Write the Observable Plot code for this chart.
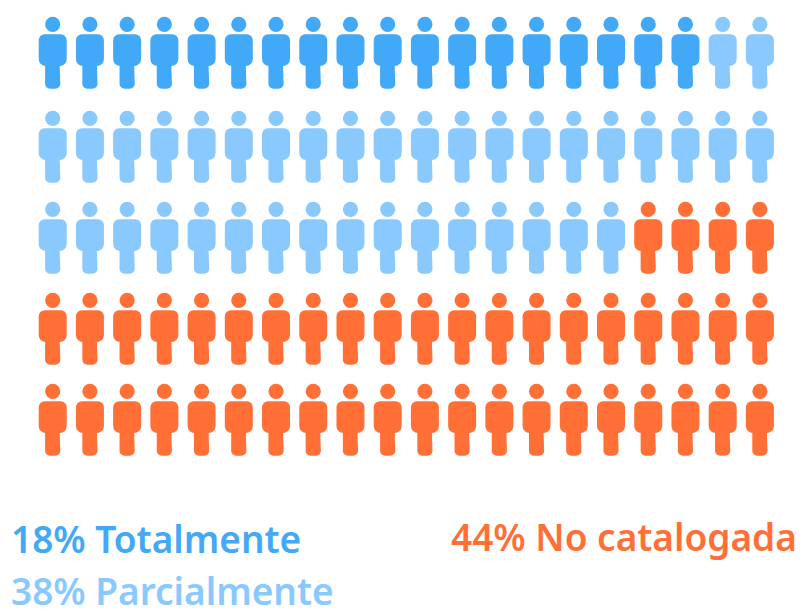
<!DOCTYPE html>
<html><head><meta charset="utf-8">
<script src="https://cdn.jsdelivr.net/npm/d3@7"></script>
<script src="https://cdn.jsdelivr.net/npm/@observablehq/plot@0.6"></script>
<style>
html,body{margin:0;padding:0;background:#fff;overflow:hidden}
#wrap{position:relative;width:803px;height:611px}
#chart svg{display:block}
.lab{position:absolute;white-space:nowrap;font-family:"Noto Sans",sans-serif;font-weight:600;font-size:37px;line-height:36px}
</style></head><body>
<div id="wrap"><div id="chart"></div></div>
<script>
const categories = ["Totalmente", "Parcialmente", "No catalogada"];
const percents = [18, 38, 44];
const colors = ["#42a9f8", "#8ac9fd", "#ff6f36"];
const columns = 20;
const rows = 5;

const people = [];
categories.forEach((c, i) => { for (let k = 0; k < percents[i]; k++) people.push(c); });
const table = people.map((category, i) => ({category, col: i % columns, row: Math.floor(i / columns)}));

// Pictogram person, centred on the origin; designed at r = 1
const person = {
  draw(ctx, size) {
    const s = Math.sqrt(size / Math.PI);
    const P = (v) => v * s;
    ctx.moveTo(P(7.6), P(-28.4));
    ctx.arc(0, P(-28.4), P(7.6), 0, 2 * Math.PI);
    ctx.closePath();
    ctx.moveTo(P(-8), P(-18.4));
    ctx.lineTo(P(8), P(-18.4));
    ctx.arcTo(P(14), P(-18.4), P(14), P(-12.4), P(6));
    ctx.lineTo(P(14), P(6));
    ctx.arcTo(P(14), P(13.4), P(7.6), P(13.4), P(7));
    ctx.lineTo(P(7.6), P(31));
    ctx.arcTo(P(7.6), P(36), P(2.6), P(36), P(5));
    ctx.lineTo(P(-2.6), P(36));
    ctx.arcTo(P(-7.6), P(36), P(-7.6), P(31), P(5));
    ctx.lineTo(P(-7.6), P(13.4));
    ctx.arcTo(P(-14), P(13.4), P(-14), P(6), P(7));
    ctx.lineTo(P(-14), P(-12.4));
    ctx.arcTo(P(-14), P(-18.4), P(-8), P(-18.4), P(6));
    ctx.closePath();
  }
};

const plot = Plot.plot({
  width: 803, height: 500,
  margin: 0,
  x: {type: "linear", domain: [0, columns - 1], range: [52.2, 759.4], axis: null},
  y: {type: "linear", domain: [0, 1, 2, 3, 4], range: [52.2, 146.2, 237.2, 328.2, 419.2], axis: null},
  color: {domain: categories, range: colors},
  marks: [
    Plot.dot(table, {x: "col", y: "row", r: 1, symbol: person, fill: "category", stroke: "none"})
  ]
});
document.getElementById("chart").append(plot);

const wrap = document.getElementById("wrap");
const positions = [[11, 521], [11, 573], [451, 519]];
categories.forEach((c, i) => {
  const d = document.createElement("div");
  d.className = "lab";
  d.textContent = percents[i] + "% " + c;
  d.style.color = colors[i];
  d.style.left = positions[i][0] + "px";
  d.style.top = positions[i][1] + "px";
  wrap.append(d);
});
</script>
</body></html>
